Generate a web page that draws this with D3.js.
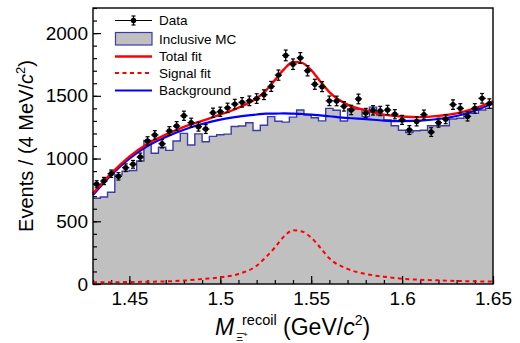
<!DOCTYPE html>
<html>
<head>
<meta charset="utf-8">
<script src="https://cdn.jsdelivr.net/npm/d3@7/dist/d3.min.js"></script>
<style>
  body { margin: 0; background: #fff; }
  text { font-family: "Liberation Sans", Arial, sans-serif; fill: #000; }
</style>
</head>
<body>
<svg id="chart" width="520" height="343"></svg>
<script>
// bins of 4 MeV from 1.43 to 1.65 GeV
var binLo = 1.43, binW = 0.004, nBins = 55;

// data counts per bin
var dataCounts = [795, 821, 879, 858, 927, 954, 1012, 1140, 1188, 1118,
  1219, 1259, 1341, 1286, 1254, 1235, 1365, 1373, 1404, 1434,
  1448, 1460, 1478, 1509, 1575, 1665, 1822, 1752, 1802, 1700,
  1592, 1573, 1460, 1459, 1416, 1387, 1475, 1363, 1384, 1379,
  1387, 1353, 1308, 1227, 1296, 1350, 1211, 1286, 1314, 1430,
  1400, 1336, 1400, 1480, 1438];

// inclusive MC histogram
var mcCounts = [683, 693, 731, 870, 900, 905, 980, 1145, 1042, 1090,
  1065, 1140, 1201, 1108, 1197, 1134, 1177, 1190, 1195, 1256,
  1260, 1285, 1224, 1265, 1334, 1297, 1290, 1330, 1387, 1347,
  1325, 1300, 1400, 1385, 1299, 1395, 1395, 1334, 1410, 1347,
  1307, 1262, 1225, 1208, 1222, 1225, 1262, 1262, 1262, 1315,
  1321, 1360, 1360, 1387, 1400];

// fit curves sampled at these masses
var curveX = [1.43, 1.44, 1.45, 1.46, 1.47, 1.48, 1.49, 1.50, 1.51, 1.52,
  1.525, 1.53, 1.535, 1.54, 1.545, 1.55, 1.555, 1.56, 1.57, 1.58,
  1.59, 1.60, 1.61, 1.62, 1.63, 1.64, 1.65];
var totalFit = [722, 882, 1015, 1118, 1190, 1253, 1300, 1350, 1405, 1480,
  1540, 1625, 1710, 1770, 1762, 1705, 1615, 1530, 1430, 1385,
  1350, 1335, 1330, 1340, 1360, 1400, 1455];
var signalFit = [13, 14, 16, 18, 21, 27, 40, 53, 80, 146,
  213, 290, 378, 428, 418, 370, 290, 205, 120, 80,
  58, 42, 34, 29, 24, 21, 19];
var bkgFit = [709, 869, 1000, 1100, 1172, 1230, 1275, 1310, 1334, 1351,
  1358, 1358, 1360, 1358, 1355, 1350, 1344, 1337, 1323, 1314,
  1303, 1299, 1302, 1315, 1339, 1381, 1440];

var xMajor = [1.45, 1.5, 1.55, 1.6, 1.65];
var yMajor = [0, 500, 1000, 1500, 2000];

var legendItems = ["Data", "Inclusive MC", "Total fit", "Signal fit", "Background"];

var svg = d3.select("#chart");
var x = d3.scaleLinear().domain([1.43, 1.65]).range([93, 493]);
var y = d3.scaleLinear().domain([0, 2200]).range([284, 8]);

var mcBlue = "#3b3bab", gray = "#c0c0c0";

// MC histogram (step)
var edges = d3.range(nBins + 1).map(function(k) { return binLo + k * binW; });
var mcPts = edges.map(function(e, k) { return [e, mcCounts[Math.min(k, nBins - 1)]]; });
svg.append("path")
  .attr("d", d3.area().curve(d3.curveStepAfter)
    .x(function(d) { return x(d[0]); })
    .y0(y(0))
    .y1(function(d) { return y(d[1]); })(mcPts))
  .attr("fill", gray);
svg.append("path")
  .attr("d", d3.line().curve(d3.curveStepAfter)
    .x(function(d) { return x(d[0]); })
    .y(function(d) { return y(d[1]); })(mcPts))
  .attr("fill", "none").attr("stroke", mcBlue).attr("stroke-width", 1.4);

// axes: ticks pointing inward
var xMinor = d3.range(1.43, 1.6501, 0.01).map(function(v) { return +v.toFixed(2); });
var yMinor = d3.range(0, 2201, 100);

svg.append("g").attr("transform", "translate(0,284)")
  .call(d3.axisBottom(x).tickValues(xMinor).tickSizeInner(-4).tickSizeOuter(0).tickFormat(""))
  .call(function(g) { g.select(".domain").remove(); });
svg.append("g").attr("transform", "translate(0,284)")
  .call(d3.axisBottom(x).tickValues(xMajor).tickSizeInner(-8).tickSizeOuter(0)
    .tickPadding(6).tickFormat(d3.format("")))
  .call(function(g) {
    g.select(".domain").remove();
    g.selectAll("text").attr("font-size", 19).attr("font-family", null).attr("dy", "0.8em");
  });
svg.append("g").attr("transform", "translate(93,0)")
  .call(d3.axisLeft(y).tickValues(yMinor).tickSizeInner(-4).tickSizeOuter(0).tickFormat(""))
  .call(function(g) { g.select(".domain").remove(); });
svg.append("g").attr("transform", "translate(93,0)")
  .call(d3.axisLeft(y).tickValues(yMajor).tickSizeInner(-8).tickSizeOuter(0)
    .tickPadding(5).tickFormat(d3.format("d")))
  .call(function(g) {
    g.select(".domain").remove();
    g.selectAll("text").attr("font-size", 19).attr("font-family", null);
  });
svg.selectAll(".tick line").attr("stroke", "#000").attr("stroke-width", 1.2);

// fit curves
var curveLine = function(vals) {
  return d3.line().curve(d3.curveMonotoneX)
    .x(function(d, i) { return x(curveX[i]); })
    .y(function(d) { return y(d); })(vals);
};
svg.append("path").attr("d", curveLine(signalFit))
  .attr("fill", "none").attr("stroke", "#ff0000").attr("stroke-width", 2)
  .attr("stroke-dasharray", "4,3.5");
svg.append("path").attr("d", curveLine(bkgFit))
  .attr("fill", "none").attr("stroke", "#0000ff").attr("stroke-width", 2.2);
svg.append("path").attr("d", curveLine(totalFit))
  .attr("fill", "none").attr("stroke", "#ff0000").attr("stroke-width", 2.4);

// data points with errors
var pts = svg.append("g").selectAll("g").data(dataCounts).enter().append("g")
  .attr("transform", function(d, i) {
    return "translate(" + x(binLo + (i + 0.5) * binW) + "," + y(d) + ")";
  });
var hw = (x(binLo + binW) - x(binLo)) / 2;
pts.append("line").attr("x1", -hw).attr("x2", hw).attr("y1", 0).attr("y2", 0)
  .attr("stroke", "#000").attr("stroke-width", 1.3);
pts.append("line").attr("x1", 0).attr("x2", 0)
  .attr("y1", function(d) { return y(d + Math.sqrt(d)) - y(d); })
  .attr("y2", function(d) { return y(d - Math.sqrt(d)) - y(d); })
  .attr("stroke", "#000").attr("stroke-width", 1.3);
[1, -1].forEach(function(s) {
  pts.append("line").attr("x1", -2).attr("x2", 2)
    .attr("y1", function(d) { return y(d + s * Math.sqrt(d)) - y(d); })
    .attr("y2", function(d) { return y(d + s * Math.sqrt(d)) - y(d); })
    .attr("stroke", "#000").attr("stroke-width", 1.2);
});
pts.append("circle").attr("r", 2.7).attr("fill", "#000");

// frame
svg.append("rect").attr("x", 93).attr("y", 8).attr("width", 400).attr("height", 276)
  .attr("fill", "none").attr("stroke", "#000").attr("stroke-width", 1.4);

// legend
var lg = svg.append("g");
var rowY = [20.5, 39, 56.5, 73, 90.5];
lg.selectAll("text").data(legendItems).enter().append("text")
  .attr("x", 159).attr("y", function(d, i) { return rowY[i]; })
  .attr("dy", "0.35em").attr("font-size", 13.5).text(function(d) { return d; });
// Data
lg.append("line").attr("x1", 115).attr("x2", 152).attr("y1", rowY[0]).attr("y2", rowY[0])
  .attr("stroke", "#000").attr("stroke-width", 1.2);
lg.append("line").attr("x1", 133.5).attr("x2", 133.5).attr("y1", rowY[0] - 4.5).attr("y2", rowY[0] + 4.5)
  .attr("stroke", "#000").attr("stroke-width", 1.2);
[-4.5, 4.5].forEach(function(o) {
  lg.append("line").attr("x1", 131.5).attr("x2", 135.5).attr("y1", rowY[0] + o).attr("y2", rowY[0] + o)
    .attr("stroke", "#000").attr("stroke-width", 1.2);
});
lg.append("circle").attr("cx", 133.5).attr("cy", rowY[0]).attr("r", 2.7).attr("fill", "#000");
// MC box
lg.append("rect").attr("x", 115.5).attr("y", rowY[1] - 6.5).attr("width", 36.5).attr("height", 12.5)
  .attr("fill", gray).attr("stroke", mcBlue).attr("stroke-width", 1.2);
// lines
lg.append("line").attr("x1", 115).attr("x2", 152).attr("y1", rowY[2]).attr("y2", rowY[2])
  .attr("stroke", "#ff0000").attr("stroke-width", 2.4);
lg.append("line").attr("x1", 115).attr("x2", 152).attr("y1", rowY[3]).attr("y2", rowY[3])
  .attr("stroke", "#ff0000").attr("stroke-width", 2).attr("stroke-dasharray", "4,3.5");
lg.append("line").attr("x1", 115).attr("x2", 152).attr("y1", rowY[4]).attr("y2", rowY[4])
  .attr("stroke", "#0000ff").attr("stroke-width", 2.2);

// axis titles
var yt = svg.append("text").attr("transform", "translate(33,146) rotate(-90)")
  .attr("text-anchor", "middle").attr("font-size", 20);
yt.append("tspan").text("Events / (4 MeV/");
yt.append("tspan").attr("font-style", "italic").text("c");
yt.append("tspan").attr("font-size", 13).attr("dy", -8).text("2");
yt.append("tspan").attr("dy", 8).text(")");

var xt = svg.append("text").attr("x", 215).attr("y", 335).attr("font-size", 23);
xt.append("tspan").attr("font-style", "italic").text("M");
xt.append("tspan").attr("x", 242).attr("font-size", 14.5).attr("dy", -10).text("recoil");
xt.append("tspan").attr("font-size", 23).attr("dy", 10).text(" (GeV/");
xt.append("tspan").attr("font-style", "italic").text("c");
xt.append("tspan").attr("font-size", 14).attr("dy", -10).text("2");
xt.append("tspan").attr("dy", 10).text(")");
var sub = svg.append("text").attr("x", 236).attr("y", 341).attr("font-size", 11);
sub.append("tspan").text("\u039E\u0304");
sub.append("tspan").attr("font-size", 8).attr("dy", -4).text("+");
</script>
</body>
</html>
